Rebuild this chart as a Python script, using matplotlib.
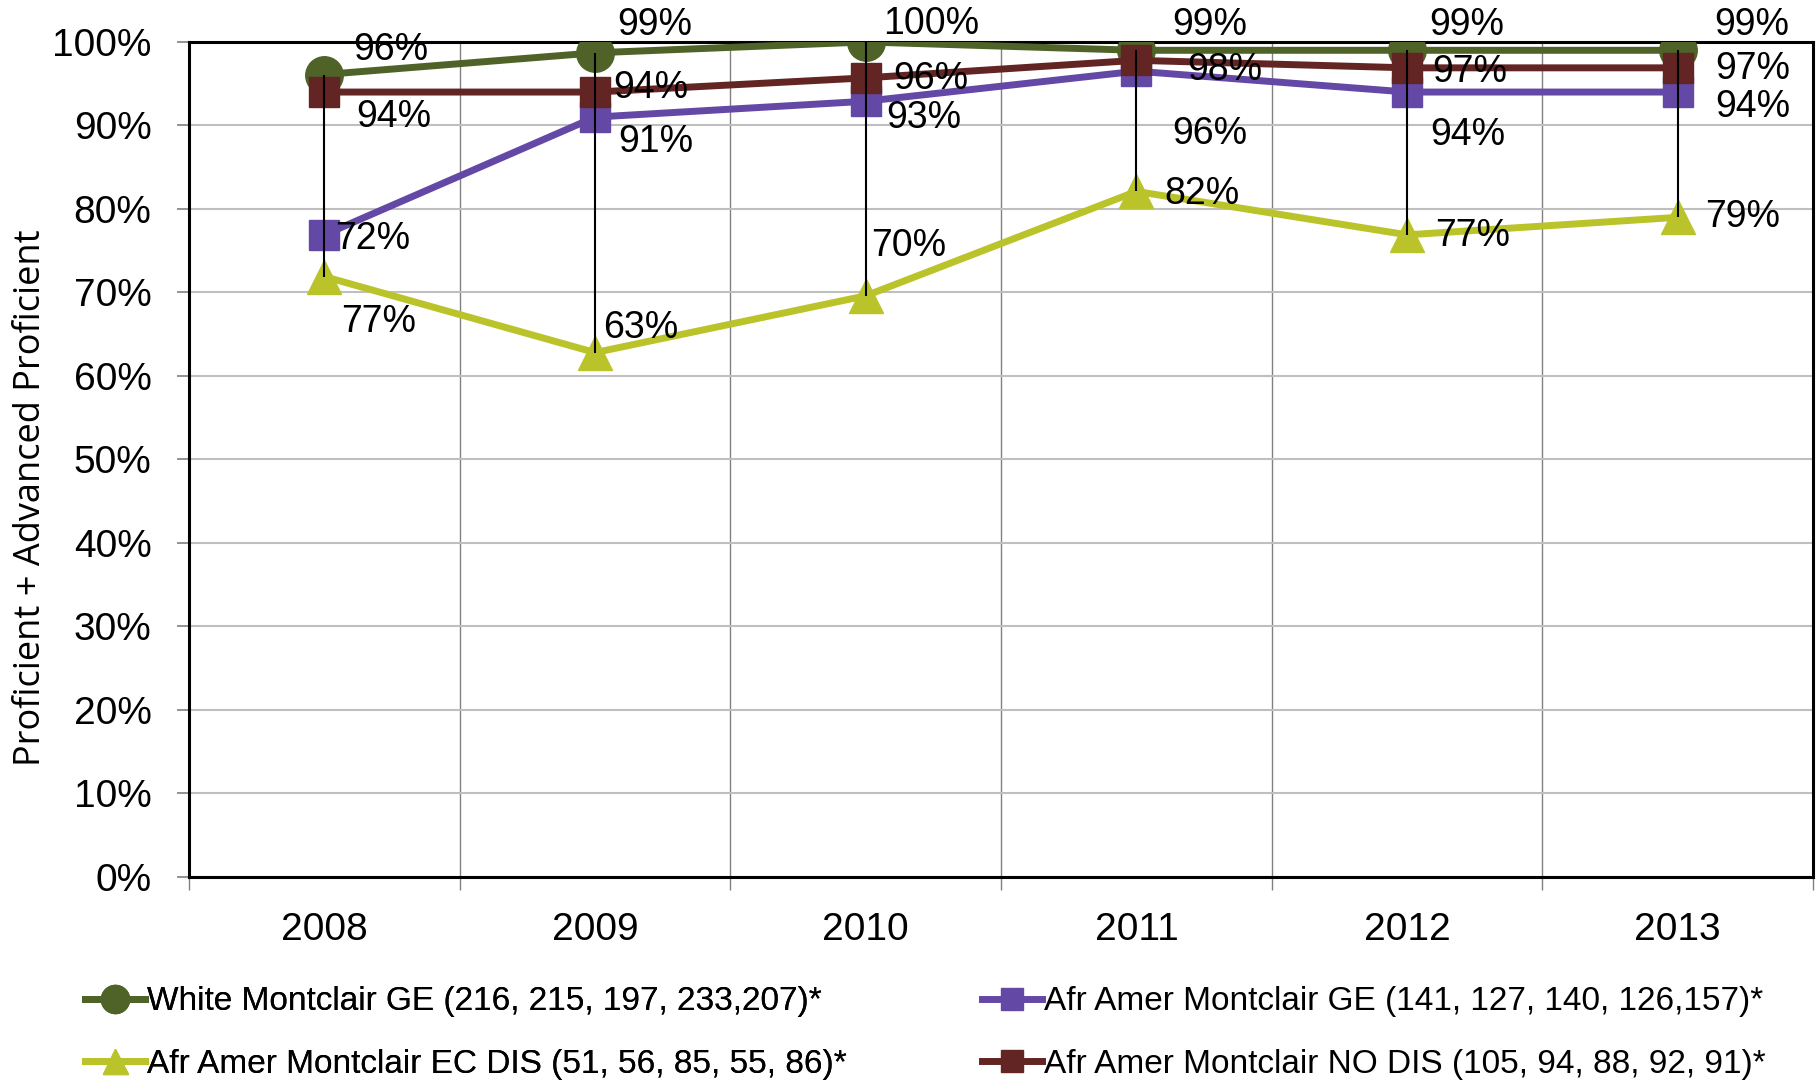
import numpy as np
import matplotlib
matplotlib.use("Agg")
import matplotlib.pyplot as plt
from matplotlib.ticker import PercentFormatter

plt.rcParams['font.family'] = ['Liberation Sans', 'DejaVu Sans']

years = ['2008', '2009', '2010', '2011', '2012', '2013']

# values as plotted (percent)
white_ge = [96.1, 98.7, 100.0, 99.0, 99.0, 99.0]
afr_ge = [76.9, 91.0, 92.9, 96.5, 94.0, 94.0]
afr_ecdis = [71.9, 62.8, 69.6, 82.1, 76.9, 79.0]
afr_nodis = [94.0, 94.0, 95.7, 97.8, 96.9, 96.9]

# data label texts as they appear on the chart
white_lbl = ['96%', '99%', '100%', '99%', '99%', '99%']
afr_ge_lbl = ['72%', '91%', '93%', '96%', '94%', '94%']
afr_ecdis_lbl = ['77%', '63%', '70%', '82%', '77%', '79%']
afr_nodis_lbl = ['94%', '94%', '96%', '98%', '97%', '97%']

legend_names = ['White Montclair GE (216, 215, 197, 233,207)*',
                'Afr Amer Montclair GE (141, 127, 140, 126,157)*',
                'Afr Amer Montclair EC DIS (51, 56, 85, 55, 86)*',
                'Afr Amer Montclair NO DIS (105, 94, 88, 92, 91)*']

# label offsets in points (dx, dy), screen up positive
white_off = [(48, 18), (43, 20), (47, 13), (53, 18), (43, 18), (53, 18)]
nodis_off = [(50, -18), (40, 3), (47, -1), (64, -7), (45, -3), (54, -1)]
ge_off = [(35, -3), (44, -18), (42, -12), (53, -45), (44, -31), (54, -11)]
ecdis_off = [(39, -33), (33, 18), (31, 36), (47, -2), (47, -1), (47, 0)]

fig = plt.figure(figsize=(18.16, 10.84), dpi=100)
ax = fig.add_axes([0.1041, 0.191, 0.8943, 0.7703])

x = np.arange(len(years))

l_white, = ax.plot(x, white_ge, color='#4F6228', lw=5, marker='o', ms=27, zorder=3)
l_ge, = ax.plot(x, afr_ge, color='#6448A6', lw=5, marker='s', ms=22, zorder=3)
l_ec, = ax.plot(x, afr_ecdis, color='#BAC42A', lw=5, marker='^', ms=24, zorder=3)
l_no, = ax.plot(x, afr_nodis, color='#632523', lw=5, marker='s', ms=22, zorder=4)

# high-low lines
allv = np.array([white_ge, afr_ge, afr_ecdis, afr_nodis])
ax.vlines(x, allv.min(axis=0), allv.max(axis=0), color='black', lw=1.5, zorder=5)

for vals, lbls, offs in [(white_ge, white_lbl, white_off), (afr_nodis, afr_nodis_lbl, nodis_off),
                         (afr_ge, afr_ge_lbl, ge_off), (afr_ecdis, afr_ecdis_lbl, ecdis_off)]:
    for xi, v, t, o in zip(x, vals, lbls, offs):
        ax.annotate(t, (xi, v), xytext=o, textcoords='offset points',
                    ha='center', va='center', fontsize=27, zorder=6)

ax.set_xlim(-0.5, 5.5)
ax.set_ylim(0, 100)
ax.set_yticks(np.arange(0, 101, 10))
ax.yaxis.set_major_formatter(PercentFormatter(decimals=0))
ax.set_xticks(x)
ax.set_xticklabels(years)
ax.set_xticks(np.arange(-0.5, 6, 1), minor=True)
ax.tick_params(axis='x', which='major', length=0, pad=25, labelsize=28)
ax.tick_params(axis='x', which='minor', length=9, width=1, color='#808080')
ax.tick_params(axis='y', length=9, width=1.2, color='#808080', pad=18, labelsize=28)

ax.grid(axis='y', which='major', color='#BFBFBF', lw=1.5, zorder=0)
ax.grid(axis='x', which='minor', color='#808080', lw=1, zorder=0)
for s in ax.spines.values():
    s.set_linewidth(2.2)
    s.set_color('black')

ax.set_ylabel('Proficient + Advanced Proficient', fontsize=26, family=['Open Sans', 'DejaVu Sans'])
ax.yaxis.set_label_coords(-0.086, 0.454)

leg1 = fig.legend([l_white, l_ec], [legend_names[0], legend_names[2]], loc='center left',
                  bbox_to_anchor=(0.047, 0.047), frameon=False, fontsize=24, borderpad=0,
                  borderaxespad=0, handlelength=1.8, handletextpad=0.05, labelspacing=0.95,
                  markerscale=0.75)
leg2 = fig.legend([l_ge, l_no], [legend_names[1], legend_names[3]], loc='center left',
                  bbox_to_anchor=(0.541, 0.047), frameon=False, fontsize=24, borderpad=0,
                  borderaxespad=0, handlelength=1.8, handletextpad=0.05, labelspacing=0.95,
                  markerscale=0.75)
fig.add_artist(leg1)

fig.savefig('out.png', dpi=100)
